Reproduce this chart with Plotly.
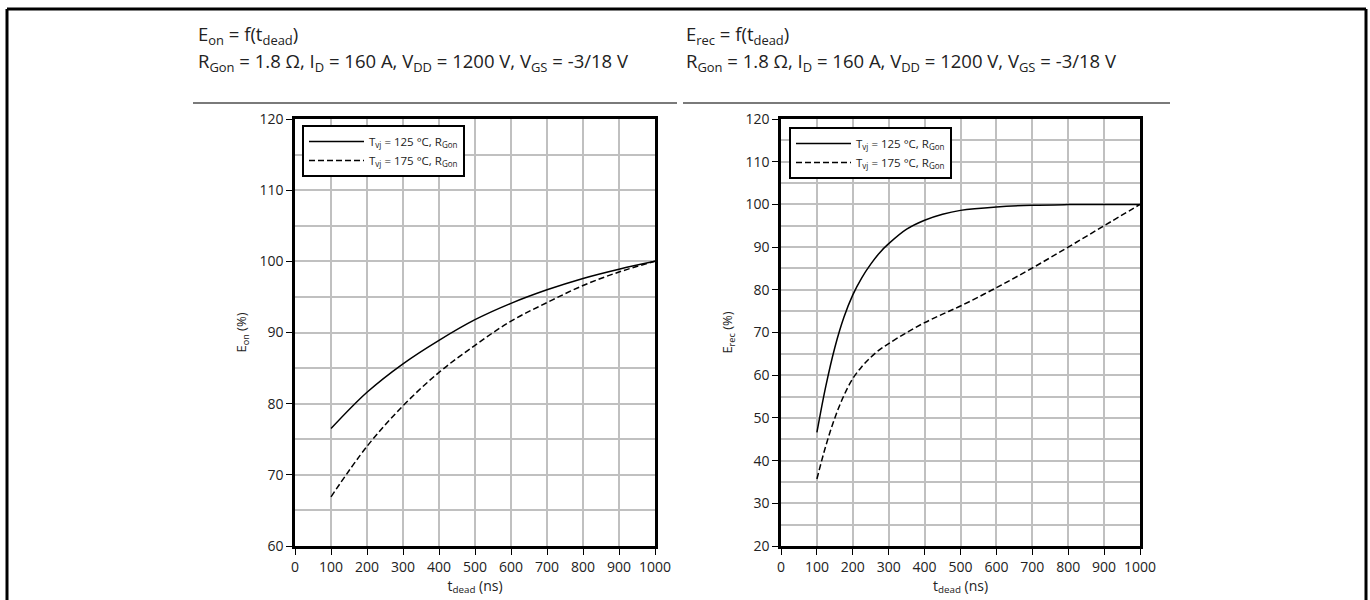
import plotly.graph_objects as go

# ---------------- data ----------------
t_on = [100, 200, 300, 400, 500, 600, 700, 800, 900, 1000]
eon_125 = [76.5, 81.6, 85.6, 88.9, 91.8, 94.1, 96.0, 97.6, 98.9, 100]
eon_175 = [66.9, 74.0, 79.7, 84.4, 88.2, 91.6, 94.2, 96.6, 98.5, 100]

t_rec125 = [100, 125, 150, 175, 200, 225, 250, 275, 300, 350, 400, 450, 500, 600, 700, 800, 900, 1000]
erec_125 = [46.6, 57.5, 66.5, 73.5, 78.8, 82.8, 86.0, 88.7, 90.8, 94.2, 96.3, 97.7, 98.6, 99.4, 99.8, 99.95, 100, 100]
t_rec175 = [100, 125, 150, 175, 200, 225, 250, 275, 300, 350, 400, 450, 500, 600, 700, 800, 900, 1000]
erec_175 = [35.7, 43.5, 50.0, 55.2, 59.2, 62.0, 64.2, 66.0, 67.4, 70.0, 72.3, 74.3, 76.2, 80.5, 85.1, 90.0, 95.0, 100]

name_125 = "T<sub>vj</sub> = 125 °C, R<sub>Gon</sub>"
name_175 = "T<sub>vj</sub> = 175 °C, R<sub>Gon</sub>"

W, H = 1370, 600
FONT = "Open Sans"

def px(x):
    return x / W

def py(y):
    return 1 - y / H

fig = go.Figure()
line_solid = dict(color="black", width=1.5, shape="spline", smoothing=1.0)
line_dash = dict(color="black", width=1.5, dash="6px,3px", shape="spline", smoothing=1.0)

fig.add_trace(go.Scatter(x=t_on, y=eon_125, mode="lines", name=name_125,
                         line=line_solid, xaxis="x", yaxis="y", legend="legend"))
fig.add_trace(go.Scatter(x=t_on, y=eon_175, mode="lines", name=name_175,
                         line=line_dash, xaxis="x", yaxis="y", legend="legend"))
fig.add_trace(go.Scatter(x=t_rec125, y=erec_125, mode="lines", name=name_125,
                         line=line_solid, xaxis="x2", yaxis="y2", legend="legend2"))
fig.add_trace(go.Scatter(x=t_rec175, y=erec_175, mode="lines", name=name_175,
                         line=line_dash, xaxis="x2", yaxis="y2", legend="legend2"))

grid_col = "#c0c0c0"
tickfont = dict(family=FONT, size=14, color="#222222")

def xax(domain, anchor):
    return dict(domain=domain, anchor=anchor, range=[0, 1000], dtick=100, tick0=0,
                automargin=False,
                showgrid=True, gridcolor=grid_col, gridwidth=1.5,
                showline=True, linecolor="black", linewidth=2.5, mirror=True,
                ticks="outside", ticklen=6, tickcolor="black", tickwidth=1.2,
                tickfont=tickfont, zeroline=False,
                title=dict(text="t<sub>dead</sub> (ns)", font=dict(family=FONT, size=14, color="#222222"), standoff=0))

def yax(domain, anchor, rng, title):
    return dict(domain=domain, anchor=anchor, range=rng, dtick=10, tick0=0,
                automargin=False,
                showgrid=True, gridcolor=grid_col, gridwidth=1.5,
                minor=dict(dtick=5, showgrid=True, gridcolor=grid_col, gridwidth=1.5),
                showline=True, linecolor="black", linewidth=2.5, mirror=True,
                ticks="outside", ticklen=6, tickcolor="black", tickwidth=1.2,
                tickfont=tickfont, zeroline=False,
                title=dict(text=title, font=dict(family=FONT, size=13, color="#222222"), standoff=10))

ydom = [py(546), py(119)]
leg_font = dict(family=FONT, size=11.5, color="#222222")
fig.update_layout(
    width=W, height=H, autosize=False,
    margin=dict(l=0, r=0, t=0, b=0, pad=0, autoexpand=False),
    paper_bgcolor="white", plot_bgcolor="white",
    xaxis=xax([px(295), px(655)], "y"),
    yaxis=yax(ydom, "x", [60, 120], "E<sub>on</sub> (%)"),
    xaxis2=xax([px(781), px(1140)], "y2"),
    yaxis2=yax(ydom, "x2", [20, 120], "E<sub>rec</sub> (%)"),
    legend=dict(x=px(302), y=py(125), xanchor="left", yanchor="top",
                bgcolor="white", bordercolor="black", borderwidth=2,
                font=leg_font, itemwidth=55, tracegroupgap=0),
    legend2=dict(x=px(789), y=py(127), xanchor="left", yanchor="top",
                 bgcolor="white", bordercolor="black", borderwidth=2,
                 font=leg_font, itemwidth=55, tracegroupgap=0),
    showlegend=True,
)

title_font = dict(family=FONT, size=18.5, color="#222222")
annos = [
    (196, 35, "E<sub>on</sub> = f(t<sub>dead</sub>)"),
    (196, 62, "R<sub>Gon</sub> = 1.8 Ω, I<sub>D</sub> = 160 A, V<sub>DD</sub> = 1200 V, V<sub>GS</sub> = -3/18 V"),
    (684, 35, "E<sub>rec</sub> = f(t<sub>dead</sub>)"),
    (684, 62, "R<sub>Gon</sub> = 1.8 Ω, I<sub>D</sub> = 160 A, V<sub>DD</sub> = 1200 V, V<sub>GS</sub> = -3/18 V"),
]
for x, y, txt in annos:
    fig.add_annotation(x=px(x), y=py(y), xref="paper", yref="paper", text=txt,
                       showarrow=False, xanchor="left", yanchor="middle", font=title_font)

shapes = [
    dict(type="line", xref="paper", yref="paper", x0=px(193), x1=px(677), y0=py(103), y1=py(103),
         line=dict(color="#7a7a7a", width=2)),
    dict(type="line", xref="paper", yref="paper", x0=px(683), x1=px(1170), y0=py(103), y1=py(103),
         line=dict(color="#7a7a7a", width=2)),
    # outer page frame
    dict(type="line", xref="paper", yref="paper", x0=px(7), x1=px(1366), y0=py(9), y1=py(9),
         line=dict(color="black", width=3)),
    dict(type="line", xref="paper", yref="paper", x0=px(7), x1=px(7), y0=py(9), y1=-0.02,
         line=dict(color="black", width=3)),
    dict(type="line", xref="paper", yref="paper", x0=px(1366), x1=px(1366), y0=py(9), y1=-0.02,
         line=dict(color="black", width=3)),
]
fig.update_layout(shapes=shapes)

fig.write_html("out.html")
